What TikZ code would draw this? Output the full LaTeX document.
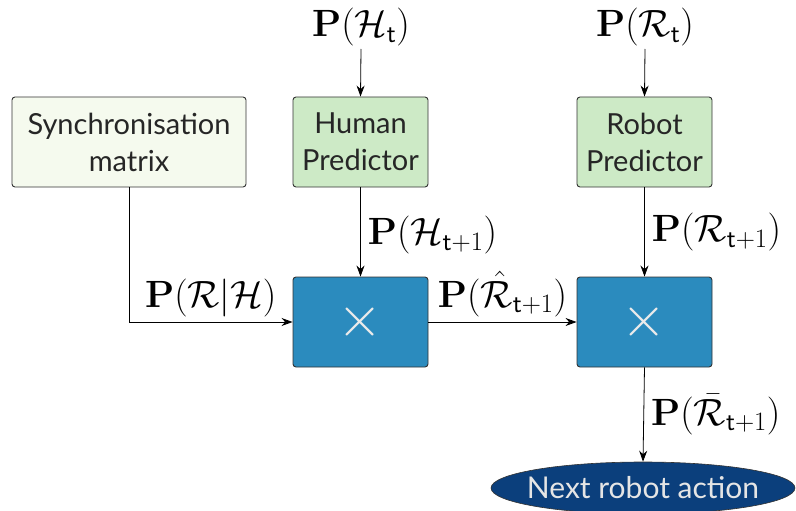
\RequirePackage{fix-cm}
\documentclass[tikz,border=0pt]{standalone}
\usepackage[no-math]{fontspec}
\setmainfont{Lato}
\usetikzlibrary{arrows.meta,shapes.geometric}
\definecolor{syncfill}{HTML}{F5FAEE}
\definecolor{predfill}{HTML}{CDEAC6}
\definecolor{multfill}{HTML}{2B8BBE}
\definecolor{actfill}{HTML}{0B3F7C}
\definecolor{boxline}{HTML}{333333}
\newcommand{\tsub}{\mathsf{t}}
\tikzset{
  blockbox/.style={draw=boxline, line width=0.9pt, rounded corners=3pt,
    minimum width=135pt, minimum height=90pt, inner sep=0pt, align=center,
    font=\fontsize{29}{37}\selectfont, text=black!85},
  syncbox/.style={blockbox, fill=syncfill, minimum width=234pt},
  predbox/.style={blockbox, fill=predfill},
  multbox/.style={blockbox, fill=multfill, text=white!92!black, font=\fontsize{58}{58}\selectfont},
  actnode/.style={ellipse, fill=actfill, draw=boxline, line width=0.6pt,
    minimum width=304pt, minimum height=52pt, inner sep=0pt,
    text=white!90!black, font=\fontsize{30}{32}\selectfont},
  mlabel/.style={font=\fontsize{38}{44}\selectfont, inner sep=0pt},
  link/.style={draw=black, line width=0.8pt, -{Stealth[length=11pt,width=8pt]}}
}
\begin{document}
\begin{tikzpicture}[x=1pt,y=-1pt]
\useasboundingbox (0,0) rectangle (796,511);

% processing blocks
\node[syncbox] (sync) at (129,142) {Synchronisation\\matrix};
\node[predbox] (human) at (360.5,142) {Human\\Predictor};
\node[predbox] (robot) at (644.5,142) {Robot\\Predictor};
\node[multbox] (mulA) at (360.5,322) {$\times$};
\node[multbox] (mulB) at (644.5,322) {$\times$};
% the ellipse keeps its own size; the text is centred in it
\node[actnode] (act) at (643,488) {\makebox[0pt]{Next robot action}};

% input distributions
\node[mlabel] (ph) at (361,27) {$\mathbf{P}(\mathcal{H}_{\tsub})$};
\node[mlabel] (pr) at (645,27) {$\mathbf{P}(\mathcal{R}_{\tsub})$};

% connectors
\draw[link] (ph.south |- 0,49) -- (human.north);
\draw[link] (pr.south |- 0,49) -- (robot.north);
\draw[link] (human.south) -- node[mlabel, right=7pt, yshift=-3pt] {$\mathbf{P}(\mathcal{H}_{\tsub+1})$} (mulA.north);
\draw[link] (robot.south) -- node[mlabel, right=7pt] {$\mathbf{P}(\mathcal{R}_{\tsub+1})$} (mulB.north);
\draw[link] (sync.south) |- node[mlabel, pos=0.75, above=5pt] {$\mathbf{P}(\mathcal{R}|\mathcal{H})$} (mulA.west);
\draw[link] (mulA.east) -- node[mlabel, above=5pt] {$\mathbf{P}(\hat{\mathcal{R}}_{\tsub+1})$} (mulB.west);
\draw[link] (mulB.south) -- node[mlabel, right=7pt] {$\mathbf{P}(\bar{\mathcal{R}}_{\tsub+1})$} (act.north);
\end{tikzpicture}
\end{document}
